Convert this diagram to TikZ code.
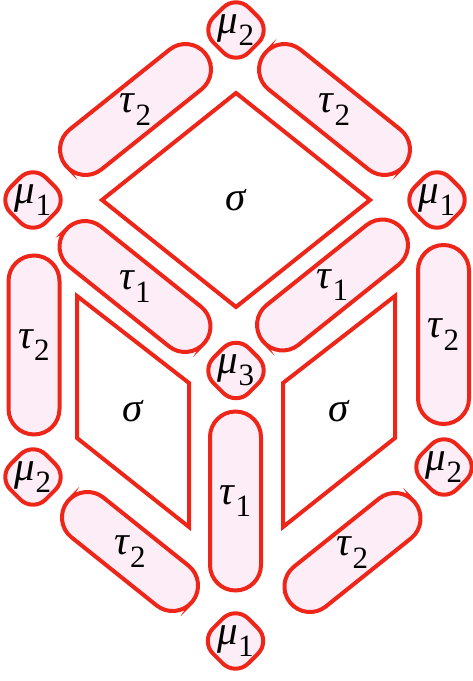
\documentclass[tikz,border=0pt]{standalone}
\usepackage{fontspec}
\setmainfont{Liberation Serif}
\usetikzlibrary{shapes.geometric}
\definecolor{edgered}{RGB}{238,38,26}
\definecolor{cellpink}{RGB}{253,237,246}
\newcommand{\gsym}[2]{\textit{#1}\raisebox{-0.3em}{\fontsize{31}{31}\selectfont #2}}
\tikzset{
        every node/.style={font=\fontsize{41}{46}\selectfont},
        vert/.style={diamond, draw=edgered, fill=cellpink, line width=4pt,
                rounded corners=18pt, minimum size=72pt, inner sep=0pt},
        bar/.style={rectangle, draw=edgered, fill=cellpink, line width=4pt,
                rounded corners=25.5pt, minimum width=179pt, minimum height=51pt, inner sep=0pt},
        shortbar/.style={bar, minimum width=160pt},
        face/.style={draw=edgered, line width=4pt, line join=miter}
        }

\begin{document}
\begin{tikzpicture}[x=1pt, y=1pt]
        \useasboundingbox (0,0) rectangle (472,681);
        % faces
        \draw[face] (236,588) -- (102,481) -- (236,374) -- (370,481) -- cycle;
        \draw[face] (77,385) -- (189,298) -- (189,154) -- (77,243) -- cycle;
        \draw[face] (395,385) -- (283,298) -- (283,154) -- (395,243) -- cycle;
        \node (s0) at (236,481) {\textit{σ}};
        \node (s1) at (133,270) {\textit{σ}};
        \node (s2) at (339,270) {\textit{σ}};

        % edges
        \node[bar, rotate=38.66] (t0) at (135.5,571.5) {\rotatebox{-38.66}{\gsym{τ}{2}}};
        \node[bar, rotate=-38.66] (t1) at (334.5,571.5) {\rotatebox{38.66}{\gsym{τ}{2}}};
        \node[bar, rotate=-38.66] (t2) at (135,394.5) {\rotatebox{38.66}{\gsym{τ}{1}}};
        \node[bar, rotate=38.66] (t3) at (332.5,396) {\rotatebox{-38.66}{\gsym{τ}{1}}};
        \node[bar, rotate=90] (t4) at (34,336) {\rotatebox{-90}{\gsym{τ}{2}}};
        \node[bar, rotate=90] (t5) at (443.5,346.5) {\rotatebox{-90}{\gsym{τ}{2}}};
        \node[bar, rotate=90] (t6) at (235.5,180) {\rotatebox{-90}{\gsym{τ}{1}}};
        \node[shortbar, rotate=-38.66] (t7) at (130,129.5) {\rotatebox{38.66}{\gsym{τ}{2}}};
        \node[shortbar, rotate=38.66] (t8) at (352.5,128.5) {\rotatebox{-38.66}{\gsym{τ}{2}}};

        % vertices
        \node[vert] (m0) at (236,651) {\gsym{μ}{2}};
        \node[vert] (m1) at (33,481) {\gsym{μ}{1}};
        \node[vert] (m2) at (437,481) {\gsym{μ}{1}};
        \node[vert] (m3) at (236,310.5) {\gsym{μ}{3}};
        \node[vert] (m4) at (33,204) {\gsym{μ}{2}};
        \node[vert] (m5) at (444,214) {\gsym{μ}{2}};
        \node[vert] (m6) at (235.5,40) {\gsym{μ}{1}};
\end{tikzpicture}
\end{document}
